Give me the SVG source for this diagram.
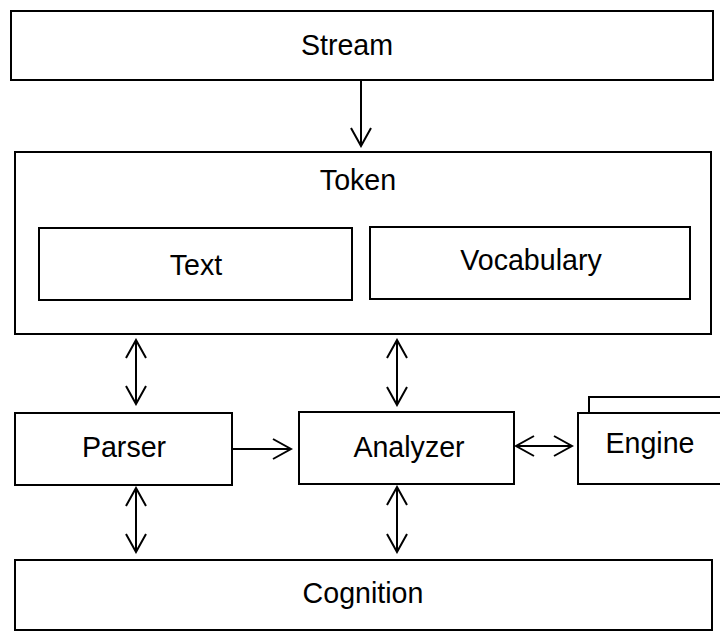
<svg xmlns="http://www.w3.org/2000/svg" width="720" height="632" viewBox="0 0 720 632">
<style>
.box{fill:#fff;stroke:#000;stroke-width:2}
.lbl{font-family:"Liberation Sans",Arial,sans-serif;font-size:28.6px;fill:#000;text-anchor:middle}
.con{stroke:#000;stroke-width:2;fill:none}
</style>
<defs>
<marker id="ah" markerUnits="userSpaceOnUse" viewBox="0 0 22 24" markerWidth="22" markerHeight="24" refX="20" refY="12" orient="auto-start-reverse">
<path d="M2,2 L20,12 L2,22" fill="none" stroke="#000" stroke-width="2"/>
</marker>
</defs>
<g id="stream"><rect class="box" x="11" y="11" width="702" height="69"/><text class="lbl" x="347" y="55">Stream</text></g>
<g id="token"><rect class="box" x="15" y="152" width="696" height="182"/><text class="lbl" x="358" y="190">Token</text></g>
<g id="text"><rect class="box" x="39" y="228" width="313" height="72"/><text class="lbl" x="196" y="275">Text</text></g>
<g id="vocabulary"><rect class="box" x="370" y="227" width="320" height="72"/><text class="lbl" x="531" y="270">Vocabulary</text></g>
<g id="parser"><rect class="box" x="15" y="413" width="217" height="72"/><text class="lbl" x="124" y="457">Parser</text></g>
<g id="analyzer"><rect class="box" x="299" y="412" width="215" height="72"/><text class="lbl" x="409" y="457">Analyzer</text></g>
<g id="engine"><rect class="box" x="589" y="397" width="140" height="72"/><rect class="box" x="578" y="413" width="150" height="71"/><text class="lbl" x="650" y="453">Engine</text></g>
<g id="cognition"><rect class="box" x="15" y="560" width="697" height="70"/><text class="lbl" x="363" y="603">Cognition</text></g>
<g id="connectors">
<line class="con" x1="361" y1="80" x2="361" y2="146" marker-end="url(#ah)"/>
<line class="con" x1="136" y1="340" x2="136" y2="404" marker-start="url(#ah)" marker-end="url(#ah)"/>
<line class="con" x1="397" y1="340" x2="397" y2="405" marker-start="url(#ah)" marker-end="url(#ah)"/>
<line class="con" x1="232" y1="449" x2="291" y2="449" marker-end="url(#ah)"/>
<line class="con" x1="516" y1="446" x2="572" y2="446" marker-start="url(#ah)" marker-end="url(#ah)"/>
<line class="con" x1="136" y1="488" x2="136" y2="552" marker-start="url(#ah)" marker-end="url(#ah)"/>
<line class="con" x1="397" y1="487" x2="397" y2="552" marker-start="url(#ah)" marker-end="url(#ah)"/>
</g>
</svg>
